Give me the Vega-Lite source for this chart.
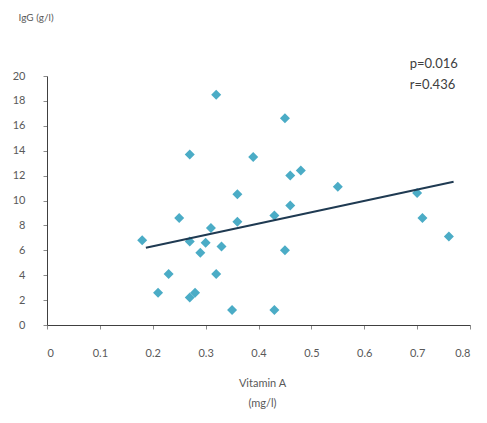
{
  "$schema": "https://vega.github.io/schema/vega-lite/v6.json",
  "width": 423,
  "height": 249,
  "autosize": {"type": "none"},
  "padding": {"left": 47, "top": 76, "right": 17, "bottom": 98},
  "background": "white",
  "config": {"view": {"stroke": null}, "font": "Lato"},
  "datasets": {
    "points": [
      {"vitA": 0.18, "igg": 6.8},
      {"vitA": 0.21, "igg": 2.6},
      {"vitA": 0.23, "igg": 4.1},
      {"vitA": 0.25, "igg": 8.6},
      {"vitA": 0.27, "igg": 13.7},
      {"vitA": 0.27, "igg": 6.7},
      {"vitA": 0.27, "igg": 2.2},
      {"vitA": 0.28, "igg": 2.6},
      {"vitA": 0.29, "igg": 5.8},
      {"vitA": 0.30, "igg": 6.6},
      {"vitA": 0.31, "igg": 7.8},
      {"vitA": 0.32, "igg": 18.5},
      {"vitA": 0.32, "igg": 4.1},
      {"vitA": 0.33, "igg": 6.3},
      {"vitA": 0.35, "igg": 1.2},
      {"vitA": 0.36, "igg": 10.5},
      {"vitA": 0.36, "igg": 8.3},
      {"vitA": 0.39, "igg": 13.5},
      {"vitA": 0.43, "igg": 8.8},
      {"vitA": 0.43, "igg": 1.2},
      {"vitA": 0.45, "igg": 16.6},
      {"vitA": 0.45, "igg": 6.0},
      {"vitA": 0.46, "igg": 12.0},
      {"vitA": 0.46, "igg": 9.6},
      {"vitA": 0.48, "igg": 12.4},
      {"vitA": 0.55, "igg": 11.1},
      {"vitA": 0.70, "igg": 10.6},
      {"vitA": 0.71, "igg": 8.6},
      {"vitA": 0.76, "igg": 7.1}
    ],
    "trend": [
      {"vitA": 0.187, "igg": 6.2},
      {"vitA": 0.769, "igg": 11.5}
    ],
    "notes": [
      {"vitA": 0.686, "igg": 21.0, "label": "p=0.016"},
      {"vitA": 0.686, "igg": 19.3, "label": "r=0.436"}
    ]
  },
  "encoding": {
    "x": {
      "field": "vitA",
      "type": "quantitative",
      "scale": {"domain": [0, 0.8], "nice": false, "zero": true},
      "axis": {
        "values": [0, 0.1, 0.2, 0.3, 0.4, 0.5, 0.6, 0.7, 0.8],
        "format": "~g",
        "grid": false,
        "domainColor": "#404040",
        "tickColor": "#8c8c8c",
        "tickSize": 4,
        "labelFont": "Lato",
        "labelFontSize": 11,
        "labelColor": "#595959",
        "labelPadding": 18,
        "title": ["Vitamin A", "(mg/l)"],
        "titleFont": "Lato",
        "titleFontSize": 11,
        "titleFontWeight": "normal",
        "titleColor": "#595959",
        "titleLineHeight": 20,
        "titleBaseline": "top",
        "titleY": 52,
        "titleX": 215
      }
    },
    "y": {
      "field": "igg",
      "type": "quantitative",
      "scale": {"domain": [0, 20], "nice": false},
      "axis": {
        "values": [0, 2, 4, 6, 8, 10, 12, 14, 16, 18, 20],
        "grid": false,
        "domainColor": "#404040",
        "tickColor": "#8c8c8c",
        "tickSize": 4,
        "labelFont": "Lato",
        "labelFontSize": 11,
        "labelColor": "#595959",
        "labelPadding": 18,
        "title": "IgG (g/l)",
        "titleFont": "Lato",
        "titleFontSize": 10,
        "titleFontWeight": "normal",
        "titleColor": "#595959",
        "titleAngle": 0,
        "titleAlign": "left",
        "titleBaseline": "middle",
        "titleX": -29,
        "titleY": -59
      }
    }
  },
  "layer": [
    {
      "data": {"name": "points"},
      "mark": {"type": "point", "shape": "diamond", "filled": true, "size": 100, "color": "#4bacc6", "opacity": 1}
    },
    {
      "data": {"name": "trend"},
      "mark": {"type": "line", "color": "#1f3a52", "strokeWidth": 2}
    },
    {
      "data": {"name": "notes"},
      "mark": {"type": "text", "align": "left", "baseline": "middle", "fontSize": 13, "color": "#404040", "font": "Lato"},
      "encoding": {"text": {"field": "label"}}
    }
  ]
}
